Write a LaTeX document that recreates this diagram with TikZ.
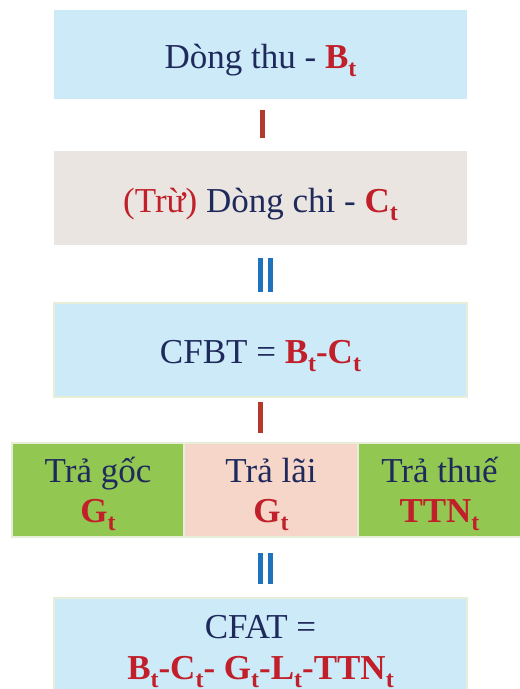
\documentclass[tikz,border=0pt]{standalone}
\usepackage{fontspec}
\setmainfont{Liberation Serif}
\definecolor{skyfill}{HTML}{CCEAF8}
\definecolor{sandfill}{HTML}{EAE5E0}
\definecolor{leaffill}{HTML}{92C852}
\definecolor{rosefill}{HTML}{F7D6CA}
\definecolor{rimcol}{HTML}{E6EEDA}
\definecolor{navytext}{HTML}{1F2A5C}
\definecolor{redtext}{HTML}{C1202A}
\definecolor{redbar}{HTML}{B5392B}
\definecolor{bluebar}{HTML}{1F73BE}
% subscript t, bold and lowered
\newcommand{\sbt}{\raisebox{-8pt}{\fontsize{24pt}{24pt}\selectfont t}}
\newcommand{\rb}[1]{\textcolor{redtext}{\bfseries #1}}
\begin{document}
\begin{tikzpicture}[x=1pt,y=-1pt,
  panel/.style={minimum width=413pt, inner sep=0pt, outer sep=0pt},
  cell/.style={minimum height=94pt, inner sep=0pt, outer sep=0pt, draw=rimcol, line width=1.2pt},
  lbl/.style={anchor=base, inner sep=0pt, text=navytext, font=\fontsize{35pt}{42pt}\selectfont},
  minusbar/.style={draw=redbar, line width=4.5pt},
  eqbar/.style={draw=bluebar, line width=4.5pt}]
\useasboundingbox (0,0) rectangle (520,689);

% stacked panels
\node[panel, fill=skyfill, minimum height=89pt] (thu) at (260.5,54.5) {};
\node[panel, fill=sandfill, minimum height=94pt] (chi) at (260.5,198) {};
\node[panel, fill=skyfill, minimum height=94pt, draw=rimcol, line width=1.2pt] (cfbt) at (260.5,350) {};

% row of deductions
\node[cell, fill=leaffill, minimum width=172pt] (goc) at (98,490) {};
\node[cell, fill=rosefill, minimum width=173pt] (lai) at (271,490) {};
\node[cell, fill=leaffill, minimum width=163pt] (thue) at (439.5,490) {};

% final panel, running past the lower edge
\node[panel, fill=skyfill, minimum height=100pt, draw=rimcol, line width=1.2pt, anchor=north] (cfat) at (260.5,598) {};

% labels
\node[lbl] (thuT) at ([yshift=-13.5pt]thu.center) {Dòng thu - \rb{B\sbt}};
\node[lbl] (chiT) at ([yshift=-14pt]chi.center) {\textcolor{redtext}{(Trừ)} Dòng chi - \rb{C\sbt}};
\node[lbl] (cfbtT) at ([yshift=-13pt]cfbt.center) {CFBT = \rb{B\sbt-C\sbt}};
\node[lbl] (gocA) at ([yshift=8pt]goc.center) {Trả gốc};
\node[lbl] (gocB) at ([yshift=-32pt]goc.center) {\rb{G\sbt}};
\node[lbl] (laiA) at ([yshift=8pt]lai.center) {Trả lãi};
\node[lbl] (laiB) at ([yshift=-32pt]lai.center) {\rb{G\sbt}};
\node[lbl] (thueA) at ([yshift=8pt]thue.center) {Trả thuế};
\node[lbl] (thueB) at ([yshift=-32pt]thue.center) {\rb{TTN\sbt}};
\node[lbl] (cfatA) at ([yshift=-40pt]cfat.north) {CFAT =};
\node[lbl] (cfatB) at ([yshift=-81pt]cfat.north) {\rb{B\sbt-C\sbt- G\sbt-L\sbt-TTN\sbt}};

% minus and equals signs between the stages
\draw[minusbar] ([xshift=2pt]thu.south) ++(0,11) -- ([xshift=2pt,yshift=13pt]chi.north);
\draw[eqbar] ([xshift=0pt,yshift=-13pt]chi.south) -- ([xshift=0pt,yshift=11pt]cfbt.north);
\draw[eqbar] ([xshift=10pt,yshift=-13pt]chi.south) -- ([xshift=10pt,yshift=11pt]cfbt.north);
\draw[minusbar] ([yshift=-5pt]cfbt.south) -- ([yshift=10pt]lai.north -| cfbt.south);
\draw[eqbar] ([yshift=-16pt]lai.south -| cfat.north) -- ([yshift=14pt]cfat.north);
\draw[eqbar] ([xshift=10pt,yshift=-16pt]lai.south -| cfat.north) -- ([xshift=10pt,yshift=14pt]cfat.north);
\end{tikzpicture}
\end{document}
